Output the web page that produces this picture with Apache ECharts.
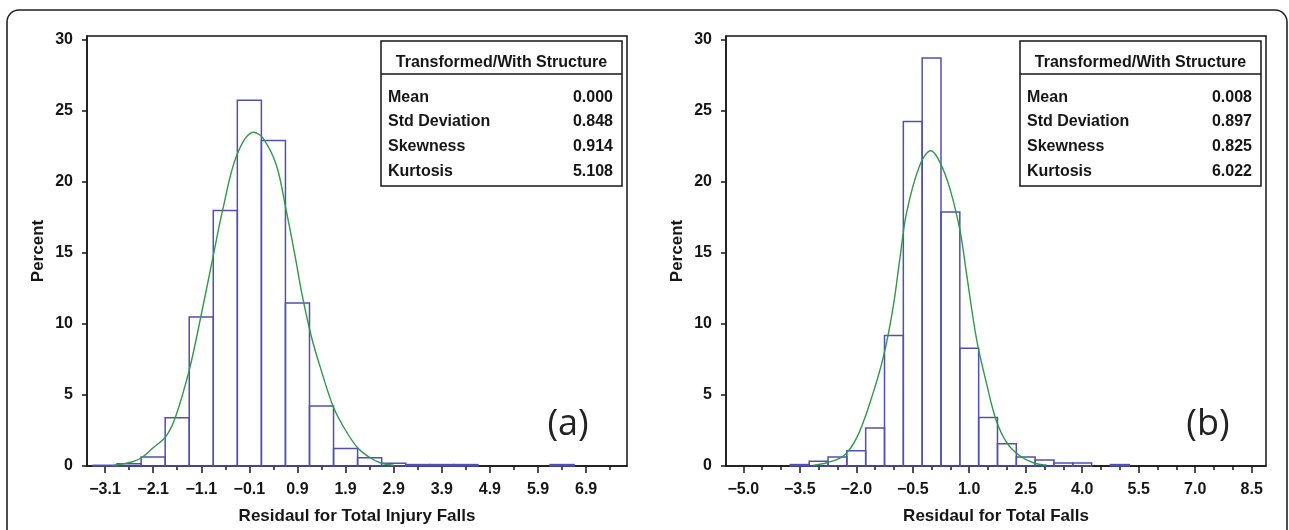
<!DOCTYPE html>
<html>
<head>
<meta charset="utf-8">
<title>Residual histograms</title>
<script src="https://cdn.jsdelivr.net/npm/echarts@6/dist/echarts.min.js"></script>
<style>
  html, body { margin: 0; padding: 0; background: #ffffff; }
  #chart { width: 1289px; height: 530px; }
</style>
</head>
<body>
<div id="chart"></div>
<script>
// ---- Panel (a): residuals for total injury falls ----
const binCentersA = [-3.1, -2.6, -2.1, -1.6, -1.1, -0.6, -0.1, 0.4, 0.9, 1.4, 1.9, 2.4, 2.9, 3.4, 3.9, 4.4, 6.4];
const percentA    = [0.05, 0.15, 0.63, 3.4, 10.5, 18.0, 25.75, 22.93, 11.47, 4.23, 1.23, 0.58, 0.19, 0.1, 0.1, 0.1, 0.1];
const curveXA = [-2.95, -2.72, -2.53, -2.34, -2.1, -1.83, -1.63, -1.35, -1.14, -0.86, -0.65, -0.36, -0.01, 0.18, 0.46, 0.66, 0.86, 1.0, 1.19, 1.37, 1.64, 1.85, 2.15, 2.41, 2.62, 2.9];
const curveYA = [0.03, 0.16, 0.3, 0.58, 1.28, 2.1, 3.5, 6.75, 10.0, 14.65, 18.1, 21.9, 23.5, 23.1, 21.2, 18.1, 14.6, 12.0, 9.1, 7.0, 4.2, 2.8, 1.28, 0.58, 0.23, 0.05];
const majorTicksA = [-3.1, -2.1, -1.1, -0.1, 0.9, 1.9, 2.9, 3.9, 4.9, 5.9, 6.9];
const minorTicksA = [-2.6, -1.6, -0.6, 0.4, 1.4, 2.4, 3.4, 4.4, 5.4, 6.4, 7.4];
const statsA = ['0.000', '0.848', '0.914', '5.108'];

// ---- Panel (b): residuals for total falls ----
const binCentersB = [-3.5, -3.0, -2.5, -2.0, -1.5, -1.0, -0.5, 0.0, 0.5, 1.0, 1.5, 2.0, 2.5, 3.0, 3.5, 4.0, 5.0];
const percentB    = [0.1, 0.33, 0.63, 1.07, 2.67, 9.19, 24.26, 28.73, 17.89, 8.3, 3.42, 1.56, 0.63, 0.42, 0.21, 0.21, 0.1];
const curveXB = [-3.14, -2.78, -2.34, -1.99, -1.64, -1.28, -1.02, -0.84, -0.66, -0.31, -0.02, 0.22, 0.49, 0.76, 0.93, 1.2, 1.46, 1.71, 2.0, 2.35, 2.7, 3.06];
const curveYB = [0.05, 0.23, 0.7, 1.98, 4.42, 7.68, 11.2, 14.65, 17.9, 21.2, 22.2, 21.4, 19.5, 16.5, 13.5, 8.84, 5.8, 3.26, 1.63, 0.7, 0.23, 0.05];
const majorTicksB = [-5.0, -3.5, -2.0, -0.5, 1.0, 2.5, 4.0, 5.5, 7.0, 8.5];
const minorTicksB = [-4.5, -4.0, -3.0, -2.5, -1.5, -1.0, 0.0, 0.5, 1.5, 2.0, 3.0, 3.5, 4.5, 5.0, 6.0, 6.5, 7.5, 8.0];
const statsB = ['0.008', '0.897', '0.825', '6.022'];

// ---- Shared ----
const binWidth = 0.5;
const percentTicks = [0, 5, 10, 15, 20, 25, 30];
const statLabels = ['Mean', 'Std Deviation', 'Skewness', 'Kurtosis'];
const statsTitle = 'Transformed/With Structure';
const yTitle = 'Percent';
const xTitleA = 'Residaul for Total Injury Falls';
const xTitleB = 'Residaul for Total Falls';
const panelTags = ['(a)', '(b)'];

const FONT = '"Liberation Sans", Arial, sans-serif';
const INK = '#161616';
const BAR_BLUE = '#4f4fb5';
const CURVE_GREEN = '#2f9a45';

const fmtTick = v => (v < 0 ? '\u2212' : '') + Math.abs(v).toFixed(1);

function histSeries(centers, values, xIdx, yIdx) {
  return {
    type: 'custom',
    xAxisIndex: xIdx,
    yAxisIndex: yIdx,
    z: 2,
    data: centers.map((c, i) => [c, values[i]]),
    renderItem: function (params, api) {
      const c = api.value(0), v = api.value(1);
      const p0 = api.coord([c - binWidth / 2, v]);
      const p1 = api.coord([c + binWidth / 2, 0]);
      return {
        type: 'rect',
        shape: { x: p0[0], y: p0[1], width: p1[0] - p0[0], height: p1[1] - p0[1] },
        style: { fill: 'none', stroke: BAR_BLUE, lineWidth: 1.5 }
      };
    }
  };
}

function curveSeries(xs, ys, xIdx, yIdx) {
  return {
    type: 'line',
    xAxisIndex: xIdx,
    yAxisIndex: yIdx,
    z: 3,
    smooth: 0.35,
    showSymbol: false,
    lineStyle: { color: CURVE_GREEN, width: 1.4 },
    data: xs.map((x, i) => [x, ys[i]])
  };
}

function majorAxis(grid, min, max, ticks, title) {
  return {
    type: 'value', gridIndex: grid, min: min, max: max, position: 'bottom',
    splitLine: { show: false },
    axisLine: { show: true, onZero: false, lineStyle: { color: INK, width: 1.5 } },
    axisTick: { show: true, customValues: ticks, length: 7, lineStyle: { color: INK, width: 1.5 } },
    axisLabel: { customValues: ticks, formatter: fmtTick, margin: 16, color: INK,
                 fontFamily: FONT, fontWeight: 'bold', fontSize: 16 },
    name: title, nameLocation: 'middle', nameGap: 42,
    nameTextStyle: { color: INK, fontFamily: FONT, fontWeight: 'bold', fontSize: 17 }
  };
}

function minorAxis(grid, min, max, ticks) {
  return {
    type: 'value', gridIndex: grid, min: min, max: max, position: 'bottom',
    splitLine: { show: false },
    axisLine: { show: false, onZero: false },
    axisTick: { show: true, customValues: ticks, length: 4, lineStyle: { color: INK, width: 1.5 } },
    axisLabel: { show: false }
  };
}

function percentAxis(grid) {
  return {
    type: 'value', gridIndex: grid, min: 0, max: 30.28, position: 'left',
    splitLine: { show: false },
    axisLine: { show: true, onZero: false, lineStyle: { color: INK, width: 1.5 } },
    axisTick: { show: true, customValues: percentTicks, length: 5, lineStyle: { color: INK, width: 1.5 } },
    axisLabel: { customValues: percentTicks, margin: 14, color: INK,
                 fontFamily: FONT, fontWeight: 'bold', fontSize: 16 },
    name: yTitle, nameLocation: 'middle', nameRotate: 90, nameGap: 40,
    nameTextStyle: { color: INK, fontFamily: FONT, fontWeight: 'bold', fontSize: 17 }
  };
}

// Summary statistics table drawn in the top-right corner of a panel
function statsBox(x0, x1, values) {
  const txt = (t, x, y, align) => ({
    type: 'text', x: x, y: y,
    style: { text: t, fill: INK, font: 'bold 16px ' + FONT, textAlign: align, textVerticalAlign: 'middle' }
  });
  const items = [
    { type: 'rect', shape: { x: x0, y: 41, width: x1 - x0, height: 145 },
      style: { fill: '#ffffff', stroke: INK, lineWidth: 1.5 } },
    { type: 'line', shape: { x1: x0, y1: 74, x2: x1, y2: 74 }, style: { stroke: INK, lineWidth: 1.5 } },
    txt(statsTitle, (x0 + x1) / 2, 62.5, 'center')
  ];
  const rowsY = [97.5, 122, 147, 172];
  statLabels.forEach((l, i) => {
    items.push(txt(l, x0 + 7, rowsY[i], 'left'));
    items.push(txt(values[i], x1 - 9, rowsY[i], 'right'));
  });
  return { type: 'group', z: 10, children: items };
}

const chart = echarts.init(document.getElementById('chart'), null, { renderer: 'canvas' });

chart.setOption({
  animation: false,
  backgroundColor: '#ffffff',
  grid: [
    { left: 87, top: 36, width: 540, height: 434, show: true, borderColor: INK, borderWidth: 1.5, backgroundColor: 'transparent' },
    { left: 726, top: 36, width: 540, height: 434, show: true, borderColor: INK, borderWidth: 1.5, backgroundColor: 'transparent' }
  ],
  xAxis: [
    majorAxis(0, -3.475, 7.75, majorTicksA, xTitleA),
    minorAxis(0, -3.475, 7.75, minorTicksA),
    majorAxis(1, -5.459, 8.88, majorTicksB, xTitleB),
    minorAxis(1, -5.459, 8.88, minorTicksB)
  ],
  yAxis: [percentAxis(0), percentAxis(1)],
  series: [
    histSeries(binCentersA, percentA, 0, 0),
    curveSeries(curveXA, curveYA, 0, 0),
    histSeries(binCentersB, percentB, 2, 1),
    curveSeries(curveXB, curveYB, 2, 1)
  ],
  graphic: [
    { type: 'rect', z: 0, silent: true,
      shape: { x: 7, y: 10, width: 1280, height: 560, r: 12 },
      style: { fill: 'none', stroke: '#222222', lineWidth: 1.6 } },
    statsBox(381, 622, statsA),
    statsBox(1020, 1261, statsB),
    { type: 'text', x: 568, y: 425, z: 10,
      style: { text: panelTags[0], fill: '#222222', font: '36px "Open Sans", sans-serif', textAlign: 'center', textVerticalAlign: 'middle' } },
    { type: 'text', x: 1208, y: 425, z: 10,
      style: { text: panelTags[1], fill: '#222222', font: '36px "Open Sans", sans-serif', textAlign: 'center', textVerticalAlign: 'middle' } }
  ]
});
</script>
</body>
</html>
